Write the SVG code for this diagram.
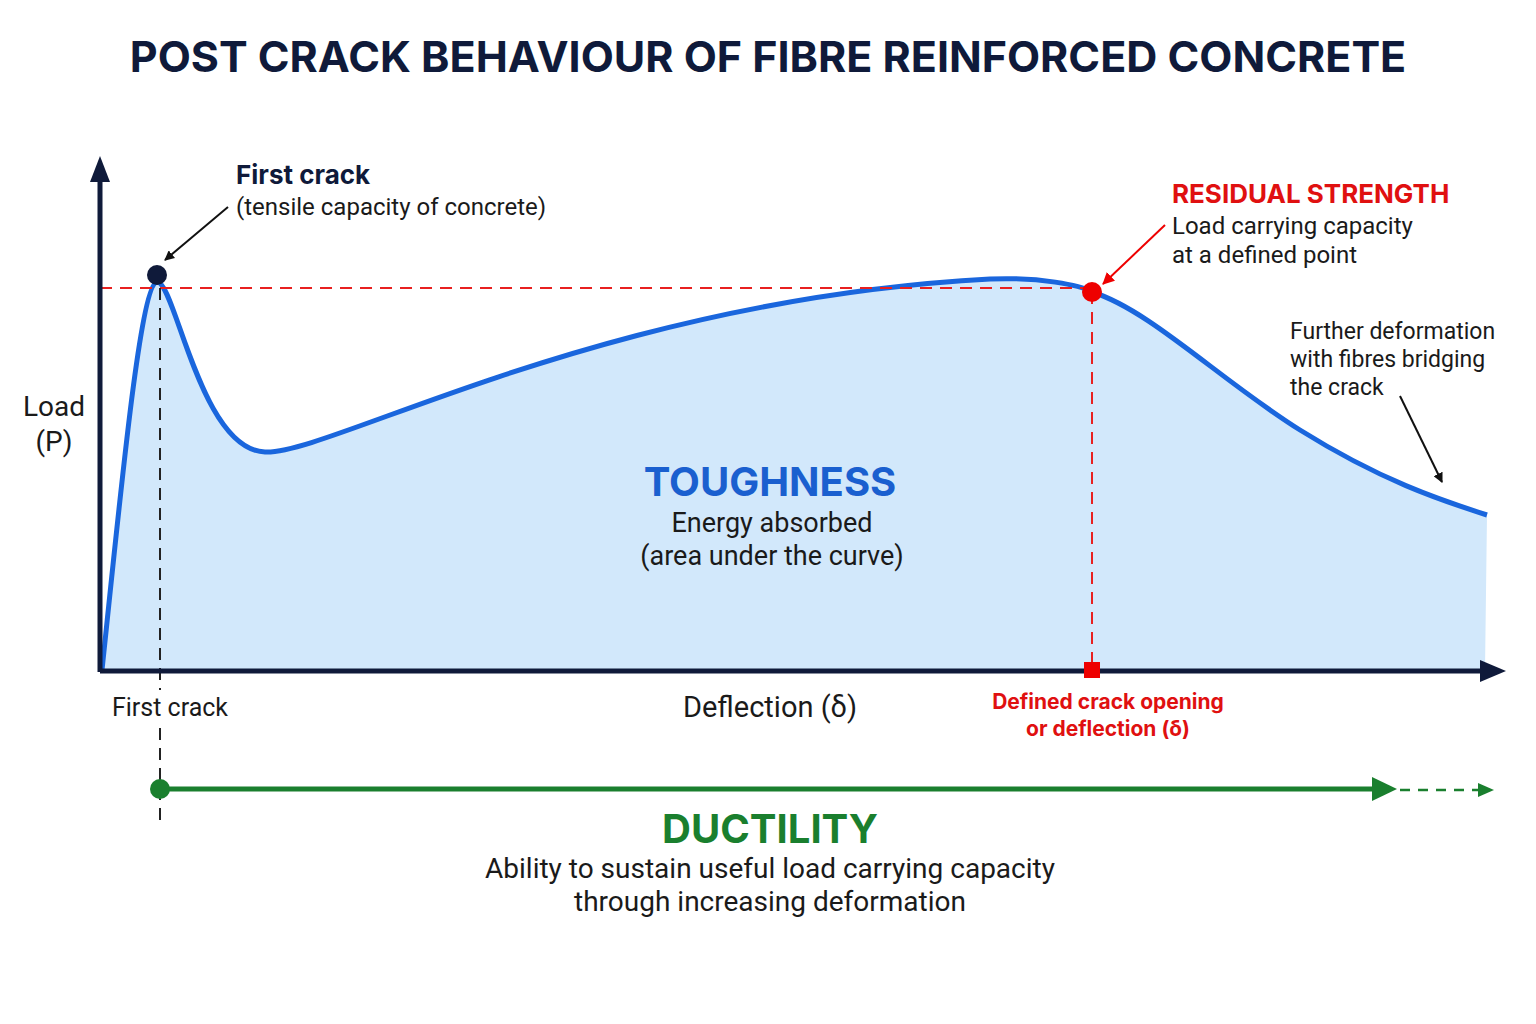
<svg xmlns="http://www.w3.org/2000/svg" width="1536" height="1024" viewBox="0 0 1536 1024">
<defs>
<style>
text{font-family:Roboto,"Liberation Sans",sans-serif}
.t{fill:#1a1a1a}
.b{font-family:Inter,"Liberation Sans",sans-serif;font-weight:700}
</style>
<marker id="ak" markerWidth="10" markerHeight="10" refX="9" refY="5" orient="auto" markerUnits="userSpaceOnUse"><path d="M0,0L10,5L0,10Z" fill="#111"/></marker>
<marker id="ar" markerWidth="12" markerHeight="12" refX="11" refY="6" orient="auto" markerUnits="userSpaceOnUse"><path d="M0,0L12,6L0,12Z" fill="#e00"/></marker>
</defs>
<rect width="1536" height="1024" fill="#fff"/>
<text x="768" y="72" text-anchor="middle" class="b" font-size="43" fill="#0f1a3a">POST CRACK BEHAVIOUR OF FIBRE REINFORCED CONCRETE</text>
<g id="curve">
<path d="M102,670 C120,500 140,285 157,282 C175,280 200,450 265,452 C330,455 600,300 990,279 C1040,277 1080,285 1092,292 C1150,310 1220,380 1300,430 C1380,480 1440,500 1487,515 L1485,670 Z" fill="#d2e8fb"/>
<path d="M102,670 C120,500 140,285 157,282 C175,280 200,450 265,452 C330,455 600,300 990,279 C1040,277 1080,285 1092,292 C1150,310 1220,380 1300,430 C1380,480 1440,500 1487,515" fill="none" stroke="#1a66dd" stroke-width="5"/>
</g>
<g id="connectors">
<line x1="100" y1="288" x2="1092" y2="288" stroke="#e82020" stroke-width="2" stroke-dasharray="12 8"/>
<line x1="1092" y1="292" x2="1092" y2="670" stroke="#e82020" stroke-width="2" stroke-dasharray="12 8"/>
<line x1="160" y1="288" x2="160" y2="690" stroke="#222" stroke-width="2" stroke-dasharray="12 8"/>
<line x1="160" y1="728" x2="160" y2="825" stroke="#222" stroke-width="2" stroke-dasharray="12 8"/>
<line x1="100" y1="672" x2="100" y2="180" stroke="#0f1a3a" stroke-width="5"/>
<path d="M90,182L100,156L110,182Z" fill="#0f1a3a"/>
<line x1="100" y1="671" x2="1484" y2="671" stroke="#0f1a3a" stroke-width="5"/>
<path d="M1480,660L1506,671L1480,682Z" fill="#0f1a3a"/>
<line x1="228" y1="207" x2="165" y2="260" stroke="#111" stroke-width="2" marker-end="url(#ak)"/>
<line x1="1165" y1="225" x2="1103" y2="284" stroke="#e00" stroke-width="2" marker-end="url(#ar)"/>
<line x1="1400" y1="396" x2="1442" y2="482" stroke="#111" stroke-width="2" marker-end="url(#ak)"/>
<line x1="160" y1="789" x2="1380" y2="789" stroke="#1a7f2e" stroke-width="5"/>
<path d="M1372,777L1397,789L1372,801Z" fill="#1a7f2e"/>
<line x1="1400" y1="790" x2="1480" y2="790" stroke="#1a7f2e" stroke-width="2.5" stroke-dasharray="10 8"/>
<path d="M1478,783L1494,790L1478,797Z" fill="#1a7f2e"/>
</g>
<g id="first-crack">
<circle cx="157" cy="275" r="10" fill="#0f1a3a"/>
<text x="236" y="184" class="b" font-size="26" fill="#0f1a3a">First crack</text>
<text x="236" y="215" class="t" font-size="24">(tensile capacity of concrete)</text>
</g>
<g id="residual">
<circle cx="1092" cy="292" r="10" fill="#e00"/>
<rect x="1084" y="662" width="16" height="16" fill="#e00"/>
<text x="1172" y="203" class="b" font-size="26" fill="#e01010">RESIDUAL STRENGTH</text>
<text x="1172" y="234" class="t" font-size="24">Load carrying capacity</text>
<text x="1172" y="263" class="t" font-size="24">at a defined point</text>
<text x="1108" y="709" text-anchor="middle" class="b" font-size="21" fill="#e01010">Defined crack opening</text>
<text x="1108" y="736" text-anchor="middle" class="b" font-size="21" fill="#e01010">or deflection (δ)</text>
</g>
<g id="further">
<text x="1290" y="339" class="t" font-size="23">Further deformation</text>
<text x="1290" y="367" class="t" font-size="23">with fibres bridging</text>
<text x="1290" y="395" class="t" font-size="23">the crack</text>
</g>
<g id="labels">
<text x="54" y="416" text-anchor="middle" class="t" font-size="28">Load</text>
<text x="54" y="451" text-anchor="middle" class="t" font-size="28">(P)</text>
<text x="170" y="716" text-anchor="middle" class="t" font-size="25">First crack</text>
<text x="770" y="717" text-anchor="middle" class="t" font-size="29">Deflection (δ)</text>
</g>
<g id="toughness">
<text x="770" y="496" text-anchor="middle" class="b" font-size="40" fill="#1a5fcf">TOUGHNESS</text>
<text x="772" y="532" text-anchor="middle" class="t" font-size="27">Energy absorbed</text>
<text x="772" y="565" text-anchor="middle" class="t" font-size="27">(area under the curve)</text>
</g>
<g id="ductility">
<circle cx="160" cy="789" r="10" fill="#1a7f2e"/>
<text x="770" y="843" text-anchor="middle" class="b" font-size="40" fill="#1a7f2e">DUCTILITY</text>
<text x="770" y="878" text-anchor="middle" class="t" font-size="28">Ability to sustain useful load carrying capacity</text>
<text x="770" y="911" text-anchor="middle" class="t" font-size="28">through increasing deformation</text>
</g>
</svg>
